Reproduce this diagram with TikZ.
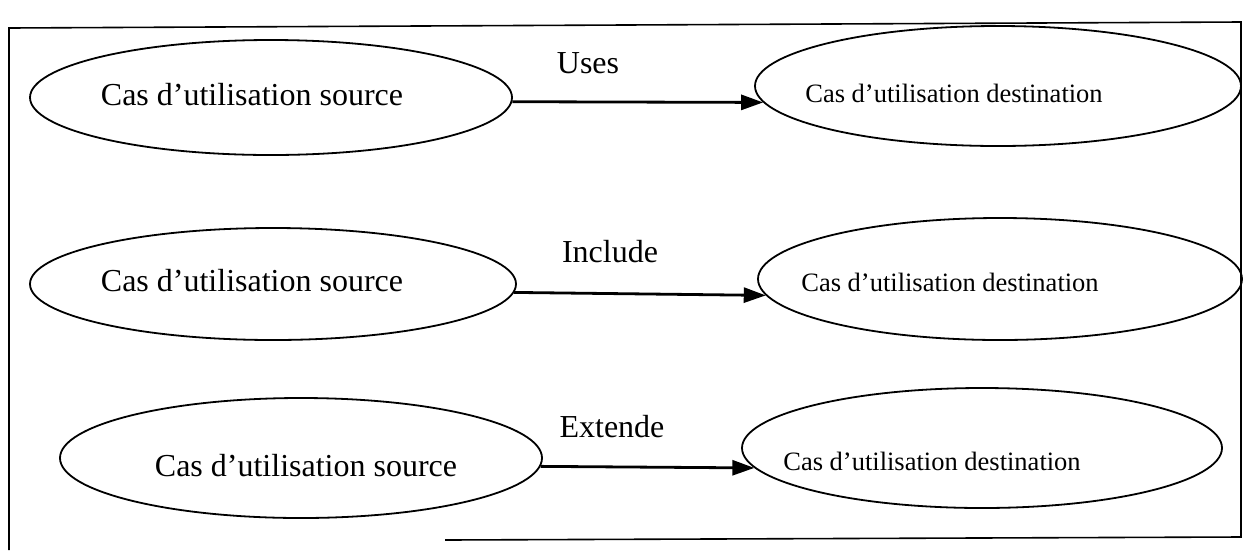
\documentclass[tikz,border=0pt]{standalone}
\usepackage{fontspec}
\setmainfont{Liberation Serif}
\usetikzlibrary{shapes.geometric,arrows.meta}

\tikzset{
  usecase/.style={draw, line width=1.8pt, ellipse, inner sep=0pt},
  srctext/.style={inner sep=0pt, font=\fontsize{32}{36}\selectfont},
  dsttext/.style={inner sep=0pt, font=\fontsize{26.5}{30}\selectfont},
  reltext/.style={inner sep=0pt, font=\fontsize{32}{36}\selectfont},
  relation/.style={line width=2.8pt, -{Triangle[length=22pt,width=15pt]}},
  frame/.style={draw, line width=1.6pt}
}

\begin{document}
\begin{tikzpicture}[x=1pt, y=-1pt]
  \useasboundingbox (0,0) rectangle (1247,550);

  % outer frame (its lower left part runs off the page)
  \draw[frame] (445,540) -- (1241,537) -- (1241,22) -- (9,28) -- (9,550);

  % row 1 : Uses
  \node[usecase, minimum width=482pt, minimum height=115pt] (s1) at (271,97.5) {};
  \node[srctext] (s1t) at (252,95) {Cas d’utilisation source};
  \node[usecase, minimum width=486pt, minimum height=120pt] (d1) at (998,86) {};
  \node[dsttext] (d1t) at (954,93) {Cas d’utilisation destination};
  \node[reltext] (l1) at (588,63) {Uses};
  \draw[relation] (s1.-1.3) -- (d1.184.2);

  % row 2 : Include
  \node[usecase, minimum width=486pt, minimum height=112pt] (s2) at (273,284) {};
  \node[srctext] (s2t) at (252,281) {Cas d’utilisation source};
  \node[usecase, minimum width=484pt, minimum height=122pt] (d2) at (1000,279) {};
  \node[dsttext] (d2t) at (950,282) {Cas d’utilisation destination};
  \node[reltext] (l2) at (610,252) {Include};
  \draw[relation] (s2.-2.6) -- (d2.184);

  % row 3 : Extende
  \node[usecase, minimum width=482pt, minimum height=120pt] (s3) at (301,458) {};
  \node[srctext] (s3t) at (306,466) {Cas d’utilisation source};
  \node[usecase, minimum width=480pt, minimum height=120pt] (d3) at (982,448) {};
  \node[dsttext] (d3t) at (932,461) {Cas d’utilisation destination};
  \node[reltext] (l3) at (612,427) {Extende};
  \draw[relation] (s3.-2.3) -- (d3.185);
\end{tikzpicture}
\end{document}
